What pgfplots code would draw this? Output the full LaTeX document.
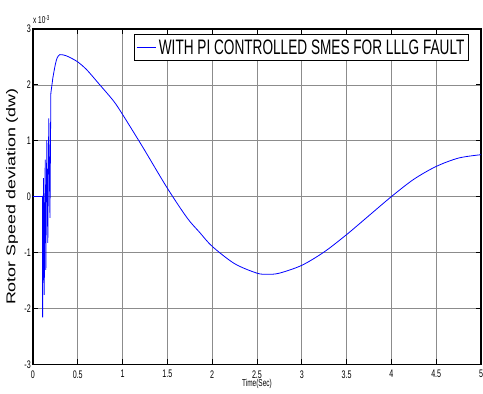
\documentclass[border=0pt]{standalone}
\usepackage{fontspec}
\setmainfont{Liberation Sans}
\newfontfamily\narrow{Liberation Sans}[FakeStretch=0.65]
\usepackage{graphicx}
\usepackage{pgfplots}
\pgfplotsset{compat=1.18}
\definecolor{mblue}{RGB}{0,0,255}
\begin{document}
\begin{tikzpicture}
\begin{axis}[
  scale only axis,
  width=449pt, height=336pt,
  xmin=0, xmax=5, ymin=-3, ymax=3,
  xtick={0,0.5,...,5}, ytick={-3,-2,...,3},
  /pgf/number format/assume math mode=true,
  xticklabel style={font=\narrow\fontsize{11}{12}\selectfont, inner sep=0pt, yshift=-6pt},
  yticklabel style={font=\narrow\fontsize{11}{12}\selectfont, inner sep=0pt, xshift=-2pt},
  grid=major,
  major grid style={black!45, line width=0.6pt},
  axis line style={line width=1.2pt},
  major tick length=5pt,
  tick style={black, line width=0.8pt},
  tick align=inside,
  xlabel={\narrow\fontsize{10}{11}\selectfont Time(Sec)},
  xlabel style={at={(rel axis cs:0.5,0)}, anchor=center, yshift=-20pt, inner sep=0pt},
  ylabel={\scalebox{1.4}[1]{\fontsize{12.8}{14}\selectfont Rotor Speed deviation (dw)}},
  ylabel style={at={(rel axis cs:0,0.5)}, anchor=center, yshift=21pt, inner sep=0pt},
  legend style={at={(rel axis cs:0.973,0.985)}, anchor=north east, draw=black, line width=1pt,
    fill=white, font=\narrow\fontsize{21}{23}\selectfont, inner xsep=2pt, inner ysep=3pt},
  legend cell align=left,
  legend image code/.code={\draw[#1, line width=0.8pt] (0pt,0pt) -- (20pt,0pt);},
  clip=false,
]
\addplot[color=mblue, line width=0.8pt, forget plot] coordinates {
(0,0) (0.107,0) (0.108,-2.16) (0.118,0.33) (0.126,-1.76) (0.137,0.66) (0.144,-1.31)
(0.155,1.01) (0.166,-0.83) (0.177,1.40) (0.19,-0.38) (0.2,1.85) (0.222,2.12)
};
\addplot[color=mblue, line width=0.8pt, smooth, tension=0.5] coordinates {
(0.222,2.12) (0.248,2.35) (0.27,2.48) (0.3,2.54) (0.35,2.53) (0.4,2.50) (0.5,2.41) (0.6,2.27)
(0.73,2.03) (0.9,1.71) (1.0,1.47) (1.155,1.07) (1.25,0.82) (1.5,0.15) (1.72,-0.38)
(1.86,-0.64) (2.0,-0.89) (2.25,-1.20) (2.5,-1.37) (2.62,-1.39) (2.75,-1.37)
(3.0,-1.23) (3.25,-0.99) (3.5,-0.68) (3.75,-0.34) (4.0,0.0) (4.25,0.31)
(4.5,0.54) (4.75,0.69) (5.0,0.75)
};
\addlegendentry{WITH PI CONTROLLED SMES FOR LLLG FAULT}
\node[anchor=south west, inner sep=0pt, font=\narrow\fontsize{10}{11}\selectfont] at (rel axis cs:0,1) [yshift=5pt] {x 10\raisebox{3pt}{\fontsize{7}{8}\selectfont -3}};
\path (rel axis cs:0,0) -- +(-33pt,-29pt);
\path (rel axis cs:1,1) -- +(1pt,29pt);
\end{axis}
\end{tikzpicture}
\end{document}
